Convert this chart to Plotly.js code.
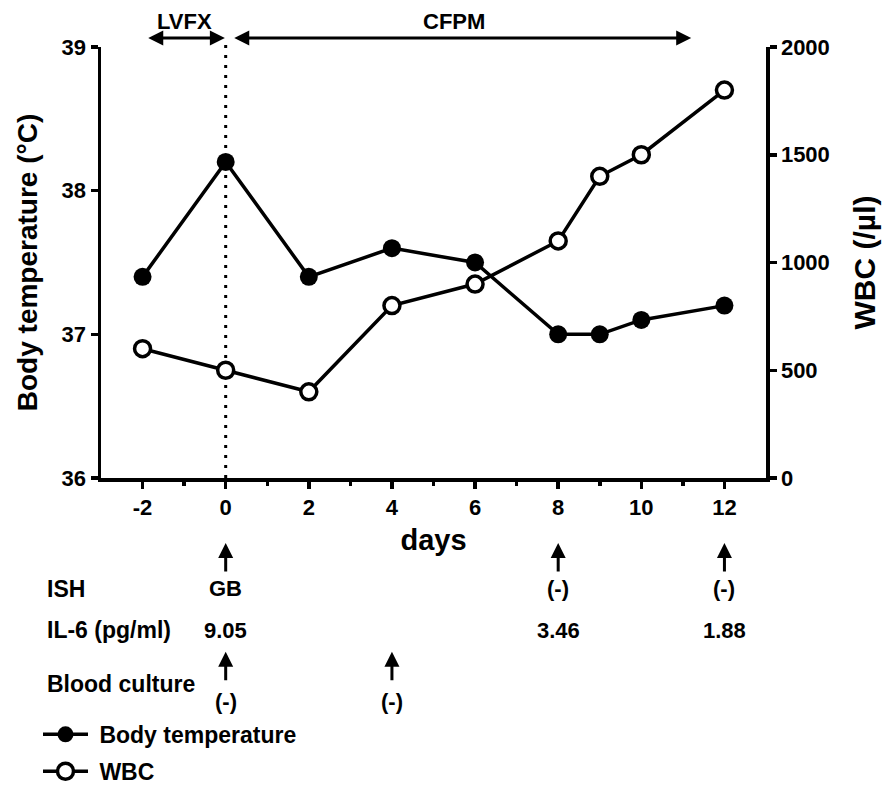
<!DOCTYPE html>
<html>
<head>
<meta charset="utf-8">
<script src="https://cdn.plot.ly/plotly-3.0.1.min.js"></script>
<style>
  html, body { margin: 0; padding: 0; background: #fff; }
  #chart { width: 887px; height: 805px; }
</style>
</head>
<body>
<div id="chart"></div>
<script>
// ---- data ----
const days = [-2, 0, 2, 4, 6, 8, 9, 10, 12];
const bodyTemperature = [37.4, 38.2, 37.4, 37.6, 37.5, 37.0, 37.0, 37.1, 37.2];
const wbc = [600, 500, 400, 800, 900, 1100, 1400, 1500, 1800];

const xTicks = [-2, 0, 2, 4, 6, 8, 10, 12];
const xMinorTicks = [-1, 1, 3, 5, 7, 9, 11];
const tempTicks = [36, 37, 38, 39];
const wbcTicks = [0, 500, 1000, 1500, 2000];

// antibiotic periods [start day, end day]
const drugNames = ["LVFX", "CFPM"];
const drugStart = [-1.9, 0.17];
const drugEnd = [-0.02, 11.2];
const drugLabelDay = [-1.0, 5.5];

// test rows
const ishDays = [0, 8, 12];
const ishResults = ["GB", "(-)", "(-)"];
const il6Days = [0, 8, 12];
const il6Values = ["9.05", "3.46", "1.88"];
const cultureDays = [0, 4];
const cultureResults = ["(-)", "(-)"];
const rowLabels = ["ISH", "IL-6 (pg/ml)", "Blood culture"];

// ---- style ----
const FONT = 'Arial, "Liberation Sans", sans-serif';
const W = 887, H = 805;
const M = {l: 101, r: 121, t: 47, b: 314};
const plotH = H - M.t - M.b;
const py = p => (H - M.b - p) / plotH;             // pixel row -> paper y
const px = p => (p - M.l) / (W - M.l - M.r);        // pixel col -> paper x

const txt = (size) => ({family: FONT, size: size, color: '#000', weight: 'bold'});

const traces = [
  {
    x: days, y: bodyTemperature, name: '\u00A0Body temperature',
    type: 'scatter', mode: 'lines+markers', yaxis: 'y', legendgroup: 'a',
    line: {color: '#000', width: 3.5},
    marker: {symbol: 'circle', size: 18, color: '#000'}
  },
  {
    x: days, y: wbc, name: '\u00A0WBC',
    type: 'scatter', mode: 'lines+markers', yaxis: 'y2', legendgroup: 'b',
    line: {color: '#000', width: 3.5},
    marker: {symbol: 'circle', size: 16, color: '#fff', line: {color: '#000', width: 3.5}}
  }
];

const annotations = [];
const shapes = [];

// drug period arrows + labels
drugNames.forEach((n, i) => {
  annotations.push({
    xref: 'x', yref: 'paper', x: drugEnd[i], y: py(37.7),
    axref: 'x', ayref: 'pixel', ax: drugStart[i], ay: 0,
    text: '', showarrow: true, arrowside: 'end+start',
    arrowhead: 2, startarrowhead: 2, arrowsize: 1, startarrowsize: 1,
    arrowwidth: 3, arrowcolor: '#000', standoff: 0, startstandoff: 0
  });
  annotations.push({
    xref: 'x', yref: 'paper', x: drugLabelDay[i], y: py(21),
    text: n, showarrow: false, xanchor: 'center', yanchor: 'middle',
    font: txt(22)
  });
});

// dotted line at day 0
shapes.push({
  type: 'line', xref: 'x', yref: 'paper', x0: 0, x1: 0, y0: 0, y1: py(42),
  line: {color: '#000', width: 3, dash: '3px,7px'}, layer: 'below'
});

// row labels
const rowY = [605, 648, 703];
rowLabels.forEach((t, i) => {
  annotations.push({
    xref: 'paper', yref: 'paper', x: px(45), y: py(rowY[i]),
    text: t, showarrow: false, xanchor: 'left', yanchor: 'middle', font: txt(23)
  });
});

// ISH arrows + results
ishDays.forEach((d, i) => {
  annotations.push({
    xref: 'x', yref: 'paper', x: d, y: py(558), ax: 0, ay: 30,
    text: '', showarrow: true, arrowhead: 2, arrowsize: 1, arrowwidth: 3,
    arrowcolor: '#000', standoff: 0
  });
  annotations.push({
    xref: 'x', yref: 'paper', x: d, y: py(605), text: ishResults[i],
    showarrow: false, xanchor: 'center', yanchor: 'middle', font: txt(22)
  });
});
il6Days.forEach((d, i) => {
  annotations.push({
    xref: 'x', yref: 'paper', x: d, y: py(648), text: il6Values[i],
    showarrow: false, xanchor: 'center', yanchor: 'middle', font: txt(22)
  });
});
cultureDays.forEach((d, i) => {
  annotations.push({
    xref: 'x', yref: 'paper', x: d, y: py(670), ax: 0, ay: 30,
    text: '', showarrow: true, arrowhead: 2, arrowsize: 1, arrowwidth: 3,
    arrowcolor: '#000', standoff: 0
  });
  annotations.push({
    xref: 'x', yref: 'paper', x: d, y: py(721), text: cultureResults[i],
    showarrow: false, xanchor: 'center', yanchor: 'middle', font: txt(22)
  });
});

const axisCommon = {
  showgrid: false, zeroline: false, showline: true, linecolor: '#000', linewidth: 3.5,
  ticks: 'outside', ticklen: 7, tickwidth: 3.5, tickcolor: '#000',
  tickfont: txt(22)
};

const layout = {
  width: W, height: H,
  margin: M,
  paper_bgcolor: '#fff', plot_bgcolor: '#fff',
  font: txt(22),
  showlegend: true,
  legend: {
    x: px(38), xanchor: 'left', y: py(733), yanchor: 'top',
    font: txt(23), bgcolor: 'rgba(0,0,0,0)', tracegroupgap: 4,
    itemwidth: 45
  },
  xaxis: Object.assign({}, axisCommon, {
    range: [-3, 13], tickvals: xTicks, ticktext: xTicks.map(String),
    minor: {tickvals: xMinorTicks, ticks: 'outside', ticklen: 4, tickwidth: 3.5, tickcolor: '#000'},
    title: {text: 'days', font: txt(29), standoff: 12}
  }),
  yaxis: Object.assign({}, axisCommon, {
    range: [36, 39], tickvals: tempTicks,
    title: {text: 'Body temperature (°C)', font: txt(28), standoff: 17}
  }),
  yaxis2: Object.assign({}, axisCommon, {
    range: [0, 2000], tickvals: wbcTicks, overlaying: 'y', side: 'right', anchor: 'x',
    title: {text: 'WBC (/µl)', font: txt(30), standoff: 26}
  }),
  annotations: annotations,
  shapes: shapes
};

Plotly.newPlot('chart', traces, layout, {displayModeBar: false, staticPlot: true});
</script>
</body>
</html>
